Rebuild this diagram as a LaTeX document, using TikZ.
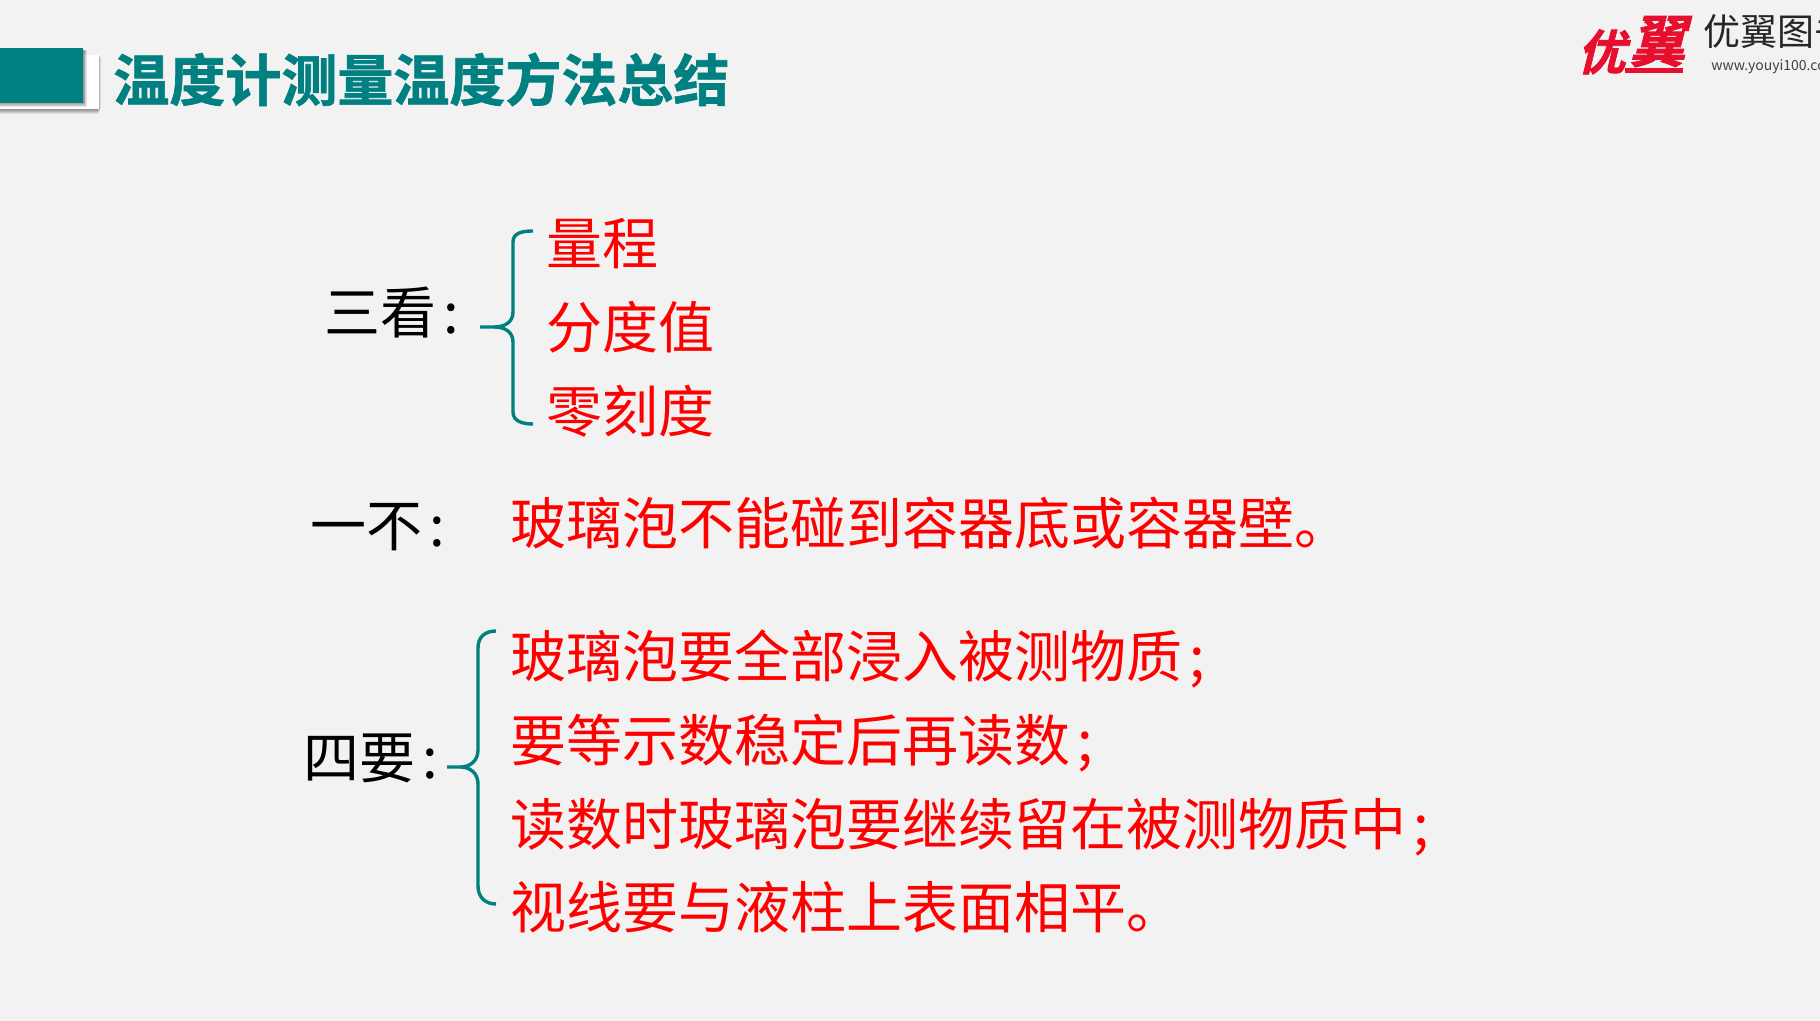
\documentclass[tikz,border=0pt]{standalone}
\usepackage{fontspec}
\setmainfont{Noto Sans CJK SC}
\newfontfamily\logofont[FakeSlant=0.25,FakeBold=1.5]{Noto Sans CJK SC Bold}
\newfontfamily\titlefont[FakeBold=1.2]{Noto Sans CJK SC Bold}
\definecolor{bgc}{HTML}{F2F2F2}
\definecolor{tealc}{HTML}{008080}
\definecolor{redc}{HTML}{FF0000}
\definecolor{logored}{HTML}{E60F2D}
\newcommand{\wcolon}{\kern3.7pt:}
\newcommand{\wsemi}{\kern3.5pt;}
\tikzset{
  x=0.5pt,y=-0.5pt,
  txt/.style={anchor=base west,inner sep=0pt,outer sep=0pt,font=\fontsize{28}{28}\selectfont},
  blacktxt/.style={txt,text=black},
  redtxt/.style={txt,text=redc},
  bracket/.style={draw=tealc,line width=1.7pt,line cap=butt},
}
\begin{document}
\begin{tikzpicture}
\useasboundingbox (0,0) rectangle (1820,1021);
\clip (0,0) rectangle (1820,1021);
\fill[bgc] (0,0) rectangle (1820,1021);
% header block with shadow
\foreach \i in {0,...,5}{
  \fill[black,opacity=0.09] (0,{56+\i}) rectangle ({99-\i*0.6+2},{109+\i*1.0});
}
\fill[white] (0,55) rectangle (99,109);
\foreach \i in {0,...,4}{
  \fill[black,opacity=0.1] (0,{50}) rectangle ({84+\i*0.7},{103+\i*0.9});
}
\fill[tealc] (0,48) rectangle (83,103);
\node[anchor=base west,inner sep=0pt,text=tealc,font=\titlefont\fontsize{28}{28}\selectfont] (title) at (113,101) {温度计测量温度方法总结};
% logo
\node[anchor=base west,inner sep=0pt,text=logored,font=\logofont\fontsize{24}{24}\selectfont] (logoa) at (1577,70) {优};
\node[anchor=base west,inner sep=0pt,text=logored,font=\logofont\fontsize{28}{28}\selectfont] (logob) at (1629,62) {翼};
\fill[logored] (1625,68) rectangle (1683,73);
\node[anchor=base west,inner sep=0pt,text=black!85,font=\fontsize{18.5}{19}\selectfont] (logoc) at (1703,46) {优翼图书};
\node[anchor=base west,inner sep=0pt,text=black!75,font=\fontsize{7}{8}\selectfont] (logod) at (1711,71) {www.youyi100.com};
% left labels
\node[blacktxt] (san) at (324,334) {三看\wcolon};
\node[blacktxt] (yi) at (310,546) {一不\wcolon};
\node[blacktxt] (si) at (303,778) {四要\wcolon};
% first brace
\draw[bracket] (533,231) .. controls (522,231) and (513,233) .. (513,242)
  -- (513,312) .. controls (513,322) and (505,327) .. (494,327) -- (480,327)
  (494,327) .. controls (505,327) and (513,332) .. (513,342)
  -- (513,412) .. controls (513,421) and (522,424) .. (533,424);
% second brace
\draw[bracket] (496,631) .. controls (485,631) and (478,637) .. (478,648)
  -- (478,750) .. controls (478,761) and (470,767) .. (460,767) -- (447,767)
  (460,767) .. controls (470,767) and (478,773) .. (478,784)
  -- (478,886) .. controls (478,897) and (485,904) .. (496,904);
% red items
\node[redtxt] (a) at (546,265) {量程};
\node[redtxt] (b) at (546,349) {分度值};
\node[redtxt] (c) at (546,433) {零刻度};
\node[redtxt] (d) at (510,544) {玻璃泡不能碰到容器底或容器壁。};
\node[redtxt] (e) at (510,677) {玻璃泡要全部浸入被测物质\wsemi};
\node[redtxt] (f) at (510,761) {要等示数稳定后再读数\wsemi};
\node[redtxt] (g) at (510,845) {读数时玻璃泡要继续留在被测物质中\wsemi};
\node[redtxt] (h) at (510,928) {视线要与液柱上表面相平。};
\end{tikzpicture}
\end{document}
